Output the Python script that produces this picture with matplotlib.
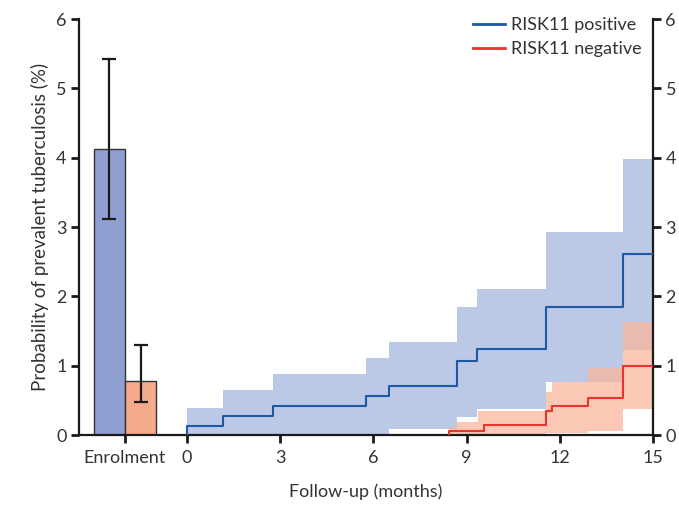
import matplotlib
matplotlib.use("Agg")
import matplotlib.pyplot as plt
from matplotlib.lines import Line2D

plt.rcParams['font.family'] = ['Lato', 'DejaVu Sans']

# Prevalent TB at enrolment (bars with 95% CI)
enrol_groups = ["RISK11 positive", "RISK11 negative"]
enrol_value = [4.12, 0.78]
enrol_low = [3.12, 0.48]
enrol_high = [5.42, 1.30]

# Cumulative incidence during follow-up (months), RISK11 positive
pos_t = [0, 0, 1.15, 2.75, 5.75, 6.5, 8.7, 9.33, 11.55, 14.04, 15]
pos_est = [0, 0.13, 0.28, 0.42, 0.56, 0.71, 1.07, 1.24, 1.85, 2.61, 2.61]
pos_low = [0, 0, 0, 0, 0, 0.08, 0.26, 0.38, 0.76, 1.23, 1.23]
pos_high = [0, 0.39, 0.65, 0.88, 1.11, 1.34, 1.85, 2.10, 2.93, 3.98, 3.98]

# Cumulative incidence during follow-up (months), RISK11 negative
neg_t = [8.43, 8.43, 8.7, 9.35, 9.57, 11.57, 11.76, 12.9, 14.04, 15]
neg_est = [0, 0.06, 0.06, 0.06, 0.14, 0.34, 0.42, 0.54, 1.00, 1.00]
neg_low = [0, 0, 0, 0, 0, 0.03, 0.03, 0.06, 0.38, 0.38]
neg_high = [0, 0.12, 0.19, 0.34, 0.34, 0.62, 0.77, 0.96, 1.63, 1.63]

x_ticks = [-2, 0, 3, 6, 9, 12, 15]
x_ticklabels = ["Enrolment", "0", "3", "6", "9", "12", "15"]
y_ticks = [0, 1, 2, 3, 4, 5, 6]

blue_bar = "#909fd2"
red_bar = "#f5aa8c"
blue_band = "#bbc8e6"
red_band = "#f9b69c"
blue_line = "#1d5aa3"
red_line = "#e8342a"
text_col = "#333333"

fig = plt.figure(figsize=(6.79, 5.07), dpi=100)
ax = fig.add_axes([79 / 679, 1 - 435 / 507, (653 - 79) / 679, (435 - 19) / 507])

# enrolment bars
bar_x = [-2.5, -1.5]
ax.bar(bar_x, enrol_value, width=1.0, color=[blue_bar, red_bar],
       edgecolor="#333333", linewidth=1.0, zorder=2)
ax.errorbar(bar_x, enrol_value,
            yerr=[[v - l for v, l in zip(enrol_value, enrol_low)],
                  [h - v for v, h in zip(enrol_value, enrol_high)]],
            fmt="none", ecolor="#1a1a1a", elinewidth=1.6, capsize=5,
            capthick=1.6, zorder=3)

# confidence bands
ax.fill_between(pos_t, pos_low, pos_high, step="post", color=blue_band,
                linewidth=0, zorder=1)
ax.fill_between(neg_t, neg_low, neg_high, step="post", color=red_band,
                alpha=0.75, linewidth=0, zorder=1.5)

# step curves
ax.step(pos_t, pos_est, where="post", color=blue_line, linewidth=1.5, zorder=4)
ax.step(neg_t, neg_est, where="post", color=red_line, linewidth=1.5, zorder=4)

ax.set_xlim(-3.48, 15)
ax.set_ylim(0, 6)
ax.set_xticks(x_ticks)
ax.set_xticklabels(x_ticklabels)
ax.set_yticks(y_ticks)

for side in ("left", "right", "bottom"):
    ax.spines[side].set_linewidth(1.6)
    ax.spines[side].set_color("#1a1a1a")
ax.spines["top"].set_visible(False)

ax.tick_params(axis="both", direction="out", length=6, width=2,
               color="#1a1a1a", labelsize=13, labelcolor=text_col, pad=3)
ax.tick_params(axis="x", pad=5)
ax.tick_params(axis="y", right=True, labelright=True)

ax.set_xlabel("Follow-up (months)", fontsize=13, color=text_col, labelpad=12)
ax.set_ylabel("Probability of prevalent tuberculosis (%)", fontsize=13.5,
              color=text_col, labelpad=5)

handles = [Line2D([], [], color=blue_line, linewidth=2),
           Line2D([], [], color=red_line, linewidth=2)]
ax.legend(handles, enrol_groups, loc="upper right",
          bbox_to_anchor=(1.008, 1.043), frameon=False, fontsize=13,
          handlelength=1.8, handletextpad=0.3, labelspacing=0.45,
          labelcolor=text_col)

fig.savefig("out.png", dpi=100)
